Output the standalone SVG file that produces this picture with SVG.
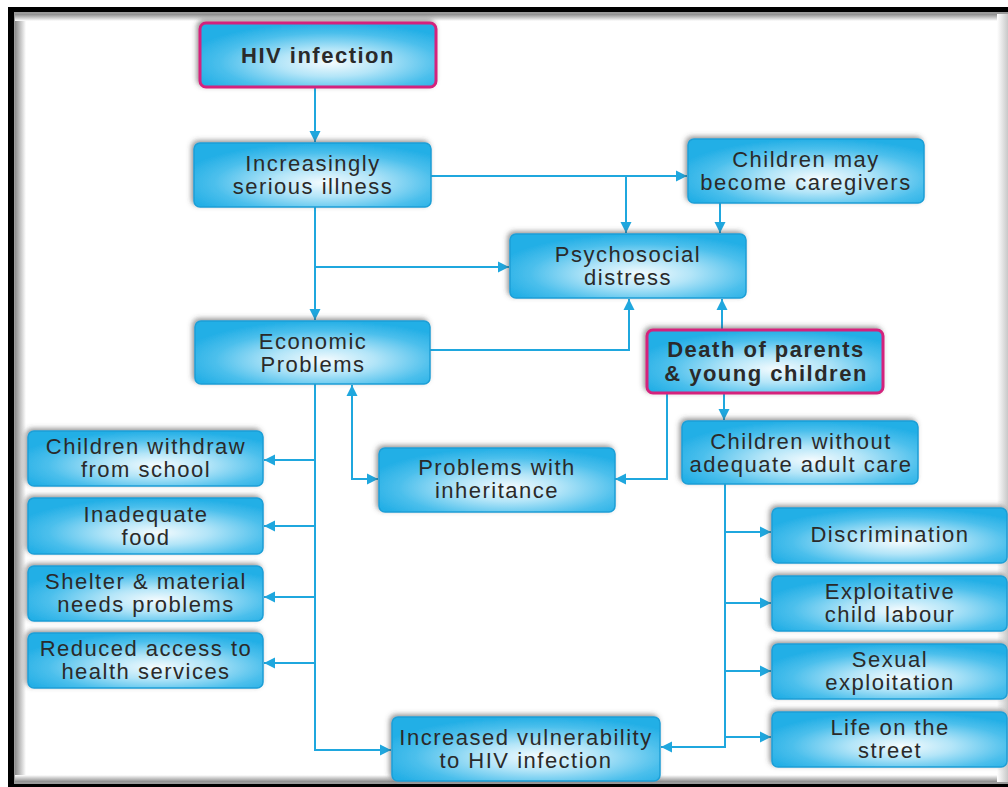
<svg xmlns="http://www.w3.org/2000/svg" width="1008" height="787" viewBox="0 0 1008 787">
  <defs>
    <style>
      .box { stroke: #1c9fd6; stroke-width: 1.5; fill: url(#boxFill); filter: url(#shade); }
      .key { stroke: #d4237d; stroke-width: 3; }
      .lbl { font-family: "Liberation Sans", Arial, sans-serif; font-size: 22px; fill: #2a2a2a; text-anchor: middle; letter-spacing: 1.5px; }
      .bold { font-weight: bold; }
      .wire { fill: none; stroke: #1fa7de; stroke-width: 2; }
      .tip { marker-end: url(#arrow); }
      .both { marker-start: url(#arrow); marker-end: url(#arrow); }
    </style>
    <radialGradient id="boxFill" cx="0.55" cy="0.62" r="0.62">
      <stop offset="0" stop-color="#f4fbfe"/>
      <stop offset="0.35" stop-color="#b3e5f8"/>
      <stop offset="0.75" stop-color="#4bbfec"/>
      <stop offset="1" stop-color="#24afe6"/>
    </radialGradient>
    <filter id="shade" x="-10%" y="-20%" width="120%" height="140%">
      <feDropShadow dx="-2" dy="-2" stdDeviation="2.5" flood-color="#444" flood-opacity="0.55"/>
    </filter>
    <marker id="arrow" markerUnits="userSpaceOnUse" markerWidth="12" markerHeight="12" refX="11" refY="6" orient="auto-start-reverse">
      <path d="M0,0.5 L11,6 L0,11.5 Z" fill="#1fa7de"/>
    </marker>
    <linearGradient id="edgeL" x1="0" y1="0" x2="1" y2="0">
      <stop offset="0" stop-color="#8a8a8a"/>
      <stop offset="1" stop-color="#fff"/>
    </linearGradient>
    <linearGradient id="edgeT" x1="0" y1="0" x2="0" y2="1">
      <stop offset="0" stop-color="#8a8a8a"/>
      <stop offset="1" stop-color="#fff"/>
    </linearGradient>
    <linearGradient id="edgeB" x1="0" y1="0" x2="0" y2="1">
      <stop offset="0" stop-color="#fff"/>
      <stop offset="1" stop-color="#8a8a8a"/>
    </linearGradient>
    <linearGradient id="edgeR" x1="0" y1="0" x2="1" y2="0">
      <stop offset="0" stop-color="#fff"/>
      <stop offset="1" stop-color="#c8c8c8"/>
    </linearGradient>
  </defs>

  <!-- page frame -->
  <rect x="0" y="0" width="1008" height="787" fill="#fff"/>
  <rect x="8" y="7" width="1000" height="780" fill="#000"/>
  <rect x="14" y="12" width="994" height="772" fill="#9a9a9a"/>
  <rect x="15" y="14" width="993" height="768" fill="#fff"/>
  <rect x="15" y="14" width="11" height="768" fill="url(#edgeL)"/>
  <rect x="15" y="14" width="993" height="7" fill="url(#edgeT)"/>
  <rect x="15" y="775" width="993" height="7" fill="url(#edgeB)"/>
  <rect x="997" y="14" width="11" height="768" fill="url(#edgeR)"/>

  <!-- connectors -->
  <g id="connectors">
    <path class="wire tip" d="M315,87 V142"/>
    <path class="wire tip" d="M431,176 H687"/>
    <path class="wire tip" d="M626,176 V233"/>
    <path class="wire tip" d="M720,203 V233"/>
    <path class="wire tip" d="M315,207 V320"/>
    <path class="wire tip" d="M315,267 H509"/>
    <path class="wire tip" d="M430,350 H629 V299"/>
    <path class="wire tip" d="M722,330 V299"/>
    <path class="wire tip" d="M724,393 V420"/>
    <path class="wire tip" d="M667,393 V479 H615"/>
    <path class="wire both" d="M352,385 V479 H378"/>
    <path class="wire tip" d="M315,384 V750 H391"/>
    <path class="wire tip" d="M315,460 H264"/>
    <path class="wire tip" d="M315,526 H264"/>
    <path class="wire tip" d="M315,597 H264"/>
    <path class="wire tip" d="M315,663 H264"/>
    <path class="wire tip" d="M725,484 V747 H661"/>
    <path class="wire tip" d="M725,532 H771"/>
    <path class="wire tip" d="M725,603 H771"/>
    <path class="wire tip" d="M725,671 H771"/>
    <path class="wire tip" d="M725,737 H771"/>
  </g>

  <!-- nodes -->
  <g id="hiv">
    <rect class="box key" x="200" y="23" width="236" height="64" rx="6"/>
    <text class="lbl bold" x="318" y="63">HIV infection</text>
  </g>
  <g id="illness">
    <rect class="box" x="194" y="143" width="237" height="64" rx="6"/>
    <text class="lbl" x="313" y="171">Increasingly</text>
    <text class="lbl" x="313" y="194">serious illness</text>
  </g>
  <g id="caregivers">
    <rect class="box" x="688" y="139" width="236" height="64" rx="6"/>
    <text class="lbl" x="806" y="167">Children may</text>
    <text class="lbl" x="806" y="190">become caregivers</text>
  </g>
  <g id="psychosocial">
    <rect class="box" x="510" y="234" width="236" height="64" rx="6"/>
    <text class="lbl" x="628" y="262">Psychosocial</text>
    <text class="lbl" x="628" y="285">distress</text>
  </g>
  <g id="economic">
    <rect class="box" x="195" y="321" width="235" height="63" rx="6"/>
    <text class="lbl" x="313" y="349">Economic</text>
    <text class="lbl" x="313" y="372">Problems</text>
  </g>
  <g id="death">
    <rect class="box key" x="647" y="330" width="236" height="63" rx="6"/>
    <text class="lbl bold" x="766" y="357">Death of parents</text>
    <text class="lbl bold" x="766" y="381">&amp; young children</text>
  </g>
  <g id="without-care">
    <rect class="box" x="682" y="421" width="236" height="63" rx="6"/>
    <text class="lbl" x="801" y="449">Children without</text>
    <text class="lbl" x="801" y="472">adequate adult care</text>
  </g>
  <g id="inheritance">
    <rect class="box" x="379" y="448" width="236" height="64" rx="6"/>
    <text class="lbl" x="497" y="475">Problems with</text>
    <text class="lbl" x="497" y="498">inheritance</text>
  </g>
  <g id="withdraw">
    <rect class="box" x="28" y="431" width="235" height="55" rx="6"/>
    <text class="lbl" x="146" y="454">Children withdraw</text>
    <text class="lbl" x="146" y="477">from school</text>
  </g>
  <g id="food">
    <rect class="box" x="28" y="498" width="235" height="56" rx="6"/>
    <text class="lbl" x="146" y="522">Inadequate</text>
    <text class="lbl" x="146" y="545">food</text>
  </g>
  <g id="shelter">
    <rect class="box" x="28" y="566" width="235" height="55" rx="6"/>
    <text class="lbl" x="146" y="589">Shelter &amp; material</text>
    <text class="lbl" x="146" y="612">needs problems</text>
  </g>
  <g id="health">
    <rect class="box" x="28" y="633" width="235" height="55" rx="6"/>
    <text class="lbl" x="146" y="656">Reduced access to</text>
    <text class="lbl" x="146" y="679">health services</text>
  </g>
  <g id="discrimination">
    <rect class="box" x="772" y="508" width="235" height="55" rx="6"/>
    <text class="lbl" x="890" y="542">Discrimination</text>
  </g>
  <g id="labour">
    <rect class="box" x="772" y="576" width="235" height="55" rx="6"/>
    <text class="lbl" x="890" y="599">Exploitative</text>
    <text class="lbl" x="890" y="622">child labour</text>
  </g>
  <g id="sexual">
    <rect class="box" x="772" y="644" width="235" height="55" rx="6"/>
    <text class="lbl" x="890" y="667">Sexual</text>
    <text class="lbl" x="890" y="690">exploitation</text>
  </g>
  <g id="street">
    <rect class="box" x="772" y="712" width="235" height="55" rx="6"/>
    <text class="lbl" x="890" y="735">Life on the</text>
    <text class="lbl" x="890" y="758">street</text>
  </g>
  <g id="vulnerability">
    <rect class="box" x="392" y="717" width="268" height="64" rx="6"/>
    <text class="lbl" x="526" y="745">Increased vulnerability</text>
    <text class="lbl" x="526" y="768">to HIV infection</text>
  </g>
</svg>
